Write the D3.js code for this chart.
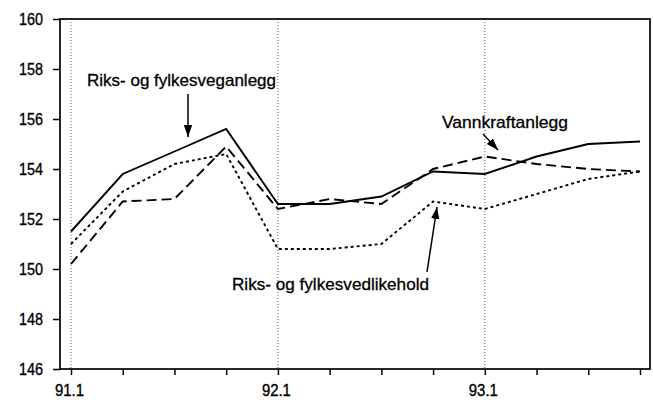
<!DOCTYPE html>
<html><head><meta charset="utf-8">
<script src="https://cdn.jsdelivr.net/npm/d3@7"></script>
<style>html,body{margin:0;padding:0;background:#fff;}svg{display:block;font-family:"Liberation Sans",Arial,sans-serif;}</style>
</head><body><svg id="c" width="653" height="402"></svg>
<script>
const periods = ["91.1","91.2","91.3","91.4","92.1","92.2","92.3","92.4","93.1","93.2","93.3","93.4"];
const tickLabels = ["91.1","92.1","93.1"];
const yTicks = [146,148,150,152,154,156,158,160];
const veganlegg   = [151.5,153.8,154.7,155.6,152.6,152.6,152.9,153.9,153.8,154.5,155.0,155.1];
const vannkraft   = [150.2,152.7,152.8,154.9,152.4,152.8,152.6,154.0,154.5,154.2,154.0,153.9];
const vedlikehold = [151.0,153.1,154.2,154.6,150.8,150.8,151.0,152.7,152.4,153.0,153.6,153.9];

const svg = d3.select("#c");
const L=60, R=650, T=19, B=369;
const x = d3.scalePoint().domain(periods).range([71,640]);
const y = d3.scaleLinear().domain([146,160]).range([B,T]);

// vertical dotted grid at year starts
svg.selectAll("line.grid").data(tickLabels).join("line")
  .attr("x1",d=>x(d)).attr("x2",d=>x(d)).attr("y1",T).attr("y2",B)
  .attr("stroke","#333").attr("stroke-width",0.8).attr("stroke-dasharray","1,2");

// frame
svg.append("rect").attr("x",L).attr("y",T).attr("width",R-L).attr("height",B-T)
  .attr("fill","none").attr("stroke","#000").attr("stroke-width",1.7);

// axes
const xAxis = svg.append("g").attr("transform",`translate(0,${B})`)
  .call(d3.axisBottom(x).tickSize(6).tickPadding(10).tickFormat(d=>tickLabels.includes(d)?d:""));
xAxis.select(".domain").remove();
xAxis.selectAll("line").attr("stroke-width",1.5);
xAxis.selectAll("text").attr("font-size",16).attr("fill","#000").attr("dx",-2)
  .attr("stroke","#000").attr("stroke-width",0.35)
  .attr("textLength",d=>tickLabels.includes(d)?29:null).attr("lengthAdjust","spacingAndGlyphs")
  .attr("font-family","Liberation Sans, Arial, sans-serif");

const yAxis = svg.append("g").attr("transform",`translate(${L},0)`)
  .call(d3.axisLeft(y).tickValues(yTicks).tickSize(7).tickPadding(10).tickFormat(d3.format("d")));
yAxis.select(".domain").remove();
yAxis.selectAll("line").attr("stroke-width",1.5);
yAxis.selectAll("text").attr("font-size",17).attr("fill","#000")
  .attr("stroke","#000").attr("stroke-width",0.35)
  .attr("textLength",24).attr("lengthAdjust","spacingAndGlyphs")
  .attr("font-family","Liberation Sans, Arial, sans-serif");

const line = d3.line().x((d,i)=>x(periods[i])).y(d=>y(d));
const series = [
  {v:veganlegg, dash:null},
  {v:vannkraft, dash:"10,5"},
  {v:vedlikehold, dash:"3,3"}
];
series.forEach(s=>{
  svg.append("path").attr("d",line(s.v)).attr("fill","none").attr("stroke","#000")
    .attr("stroke-width",1.9).attr("stroke-dasharray",s.dash);
});

// arrow marker
svg.append("defs").append("marker").attr("id","ah").attr("viewBox","0 0 10 10")
  .attr("refX",10).attr("refY",5).attr("markerWidth",12).attr("markerHeight",12)
  .attr("orient","auto").attr("markerUnits","userSpaceOnUse")
  .append("path").attr("d","M0,1.5 L10,5 L0,8.5 Z").attr("fill","#000");

const labels = [
  {t:"Riks- og fylkesveganlegg", x:87, y:86, w:189, ax1:188, ay1:94, ax2:188, ay2:137},
  {t:"Vannkraftanlegg", x:442, y:128, w:126, ax1:483, ay1:134, ax2:498, ay2:150},
  {t:"Riks- og fylkesvedlikehold", x:232, y:290, w:197, ax1:427, ay1:272, ax2:437, ay2:207}
];
labels.forEach(l=>{
  svg.append("text").attr("x",l.x).attr("y",l.y).attr("font-size",17)
    .attr("stroke","#000").attr("stroke-width",0.3)
    .attr("textLength",l.w).attr("lengthAdjust","spacingAndGlyphs").attr("fill","#000").text(l.t);
  svg.append("line").attr("x1",l.ax1).attr("y1",l.ay1).attr("x2",l.ax2).attr("y2",l.ay2)
    .attr("stroke","#000").attr("stroke-width",1.5).attr("marker-end","url(#ah)");
});
</script></body></html>
